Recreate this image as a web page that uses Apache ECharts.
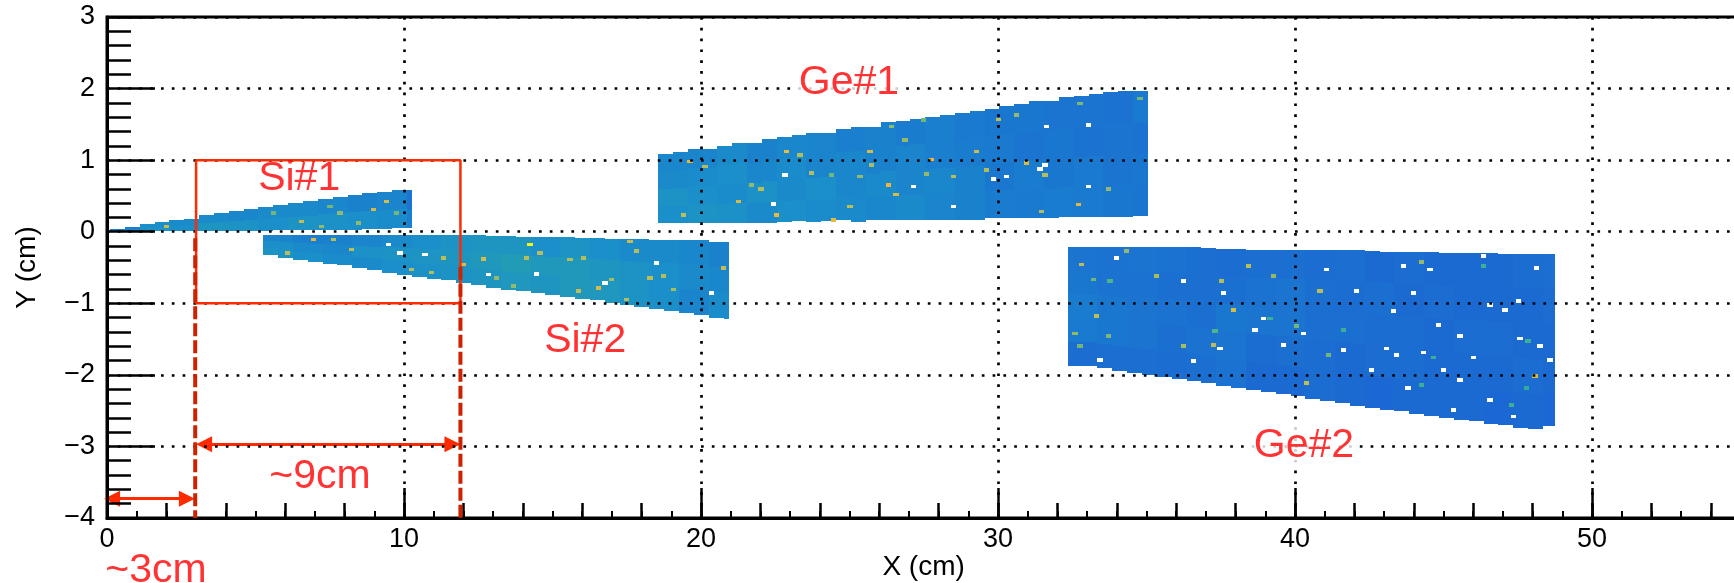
<!DOCTYPE html>
<html>
<head>
<meta charset="utf-8">
<style>
  html, body { margin: 0; padding: 0; background: #fff; }
  #chart { width: 1734px; height: 583px; }
</style>
<script src="https://cdn.jsdelivr.net/npm/echarts@6/dist/echarts.min.js"></script>
</head>
<body>
<div id="chart"></div>
<script>
// all values below are estimated from the picture, in cm.
// the fine bin noise could not be read: colour values are coarse averages (1 cm wide bands),
// the hot / empty lists are single bins picked out by eye, so their places are approximate

// Ge#1
var ge1Start = 18.55, ge1End = 35.05
var ge1High = [1.08,1.12,1.15,1.15,1.2,1.24,1.24,1.29,1.32,1.35,1.38,1.38,1.44,1.46,1.46,1.53,1.55,1.58,1.6,1.63,1.66,1.68,1.72,1.75,1.78,1.82,1.82,1.88,1.89,1.92,1.95,1.96,1.96]
var ge1Low = [.115,.115,.115,.115,.115,.115,.115,.115,.13,.15,.13,.15,.16,.13,.16,.16,.16,.16,.16,.16,.16,.17,.19,.19,.19,.19,.19,.2,.2,.2,.21,.21,.22]
var ge1Values = [
  [20,22,21,18,20,19,18,17,18,16,15,13,12,13,12,11,10],
  [22,20,19,21,18,20,17,18,16,17,15,11,13,11,12,10,11],
  [18,19,20,17,19,16,17,15,16,14,13,12,10,11,9,10,9],
  [17,16,18,15,17,16,14,15,13,14,12,11,11,10,10,9,12]
]
var ge1Hot = [[19.63,.98,75],[22.88,1.12,78],[22.02,.6,62],[21.26,.42,72],[22.55,.23,78],[20.13,.91,60],[19.41,.23,62],[21.71,.65,55],[25.69,1.12,72],[26.31,.65,80],[26.57,.52,72],[27.77,1.01,80],[29.28,1.12,68],[28.5,.77,60],[30.01,1.57,62],[30.63,1.63,55],[30.97,.96,72],[32.7,.38,75],[33.71,.6,55],[32.76,1.79,52],[27.49,1.56,50],[26.87,1.28,55],[24.46,.16,75],[23.73,.82,60],[25.02,.35,62],[25.35,.77,55],[31.47,.28,60],[34.78,1.86,50],[29.62,.86,60],[27.6,.81,55],[24.4,.79,50],[23.33,1.07,60],[26.42,1.47,55],[25.75,.93,58],[31.58,.79,60]]
var ge1Empty = [[33.04,1.49],[31.64,1.47],[31.58,.93],[29.84,.74],[27.15,.63],[22.44,.39],[28.5,.35],[22.83,.79],[33.04,.63],[31.41,.88],[30.29,.77]]

// Ge#2
var ge2Start = 32.35, ge2End = 48.75
var ge2High = [-.21,-.21,-.21,-.21,-.21,-.21,-.21,-.21,-.21,-.23,-.24,-.24,-.25,-.25,-.25,-.25,-.25,-.26,-.26,-.26,-.27,-.28,-.29,-.29,-.29,-.3,-.3,-.3,-.3,-.31,-.31,-.31,-.31]
var ge2Low = [-1.87,-1.88,-1.9,-1.95,-1.97,-2.0,-2.03,-2.06,-2.09,-2.12,-2.15,-2.18,-2.21,-2.24,-2.27,-2.3,-2.34,-2.37,-2.4,-2.43,-2.46,-2.49,-2.51,-2.54,-2.57,-2.6,-2.63,-2.65,-2.69,-2.7,-2.74,-2.75,-2.72]
var ge2Values = [
  [7,8,8,7,8,9,6,6,7,6,5,6,6,6,5,6,5],
  [12,11,10,8,9,10,7,8,7,6,7,7,6,6,6,7,6],
  [13,11,10,9,8,11,10,10,8,8,7,7,6,7,7,6,6],
  [11,9,9,8,8,8,9,10,8,7,8,6,7,6,6,6,7],
  [10,9,10,9,8,7,8,8,7,8,6,7,6,6,6,7,8]
]
var ge2Hot = [[34.33,-.27,55],[32.82,-.46,62],[35.34,-.62,58],[38.43,-.48,62],[37.53,-.69,60],[39.27,-.62,55],[40.84,-.83,62],[44.26,-.42,55],[37.92,-1.09,72],[33.32,-1.18,62],[32.59,-1.42,55],[33.71,-1.46,52],[37.25,-1.58,62],[36.24,-1.6,58],[40.06,-1.32,50],[37.31,-1.39,45],[39.16,-1.21,42],[40.39,-2.11,62],[48.08,-2.02,70],[46.34,-.48,42],[41.63,-1.37,42],[44.66,-1.76,42],[41.12,-1.72,50],[33.21,-.67,50],[32.76,-1.6,50],[47.29,-2.42,42],[44.26,-2.14,42],[47.8,-2.18,40],[47.85,-1.53,42],[33.77,-.69,45]]
var ge2Empty = [[36.24,-.69],[41.07,-.53],[38.65,-1.37],[44.83,-1.3],[36.58,-1.81],[43.31,-1.11],[47.52,-.97],[46.56,-2.35],[45.33,-2.49],[48.59,-1.79],[46,-1.76],[43.42,-1.72],[48.14,-.51],[42.08,-.83],[43.98,-.86],[37.59,-.86],[40.28,-1.42],[47.57,-1.49],[46.56,-1.02],[45.55,-1.46],[44.32,-1.69],[38.93,-1.21],[44.54,-.53],[41.63,-1.65],[43.65,-.48],[46.34,-.34],[33.43,-1.79],[33.99,-.37],[47.07,-1.09],[42.58,-1.93],[45,-1.93],[48.25,-1.6],[43.81,-2.18],[45.55,-2.07],[47.35,-2.58],[37.47,-1.63],[43.09,-1.63],[39.61,-1.58]]

// Si#1
var si1Start = 0.1, si1End = 10.26
var si1High = [.04,.07,.11,.13,.16,.18,.23,.26,.29,.32,.35,.38,.4,.43,.46,.49,.51,.54,.56,.58,.58]
var si1Low = [.01,.01,.01,.01,.01,.01,.01,.01,.01,.01,.015,.02,.02,.02,.03,.03,.03,.04,.04,.05,.05]
var si1Values = [
  [16,22,20,24,22,20,22,21,20,19,14],
  [14,20,18,18,17,18,18,17,15,16,10]
]
var si1Hot = [[2,.07,65],[8.97,.31,70],[6.55,.14,65],[9.42,.42,68],[7.23,.07,55],[8.46,.12,55],[5.6,.26,50],[7.85,.26,55],[7.51,.35,50],[9.75,.26,50]]

// Si#2
var si2Start = 5.26, si2End = 20.93
var si2High = [-.04,-.04,-.04,-.04,-.04,-.04,-.04,-.04,-.04,-.04,-.04,-.04,-.04,-.05,-.05,-.06,-.06,-.07,-.07,-.08,-.08,-.09,-.09,-.1,-.1,-.1,-.11,-.11,-.11,-.12,-.14,-.14]
var si2Low = [-.33,-.37,-.4,-.42,-.45,-.47,-.51,-.54,-.57,-.6,-.63,-.66,-.68,-.71,-.74,-.78,-.81,-.83,-.86,-.88,-.91,-.94,-.96,-.99,-1.02,-1.05,-1.08,-1.11,-1.14,-1.17,-1.2,-1.22]
var si2Values = [
  [22,20,19,18,20,21,22,24,25,24,26,25,22,20,16,19],
  [20,18,17,21,22,23,24,26,28,26,26,24,22,20,18,17],
  [16,14,15,16,18,20,22,24,24,20,22,20,18,18,17,15]
]
var si2Hot = [[14.24,-.177,100],[6.95,-.11,75],[6.07,-.3,62],[8.24,-.25,62],[10.26,-.53,60],[10.93,-.57,60],[12.67,-.38,72],[12,-.46,75],[14.58,-.3,62],[16.54,-.79,72],[17.61,-.135,65],[20.75,-.51,65],[17.5,-.95,60],[15.59,-.39,60],[18.73,-.62,60],[18.28,-.65,62],[16.04,-.37,60],[14.13,-.37,60],[16.99,-.67,58],[13.68,-.76,55],[15.87,-.83,65],[13.12,-.65,55],[11.32,-.37,62],[7.62,-.11,60],[19.07,-.81,58],[17.83,-.27,60]]
var si2Empty = [[10.71,-.32],[12.84,-.6],[9.87,-.3],[9.47,-.18],[16.77,-.72],[18.51,-.44],[20.36,-.86],[14.47,-.59]]

// annotations
var boxX = [3,11.9,11.9,3,3]
var boxY = [1,1,-1,-1,1]
var dashLeftX = [2.97,2.97], dashLeftY = [-.09,-4]
var dashRightX = [11.9,11.9], dashRightY = [-.49,-4]
// arrow ends sit at the middle of the head, so they stop short of the tips
var arrow9 = [[3.27,-2.97],[11.63,-2.97]]
var arrow3 = [[.17,-3.73],[2.69,-3.73]]
var labelNames = ['Ge#1','Ge#2','Si#1','Si#2','~9cm','~3cm']
var labelX = [24.98,40.3,6.47,16.1,7.17,1.65]
var labelY = [2.08,-2.99,.74,-1.52,-3.42,-4.73]

var xMax = 56
var colWidth = 0.5, binW = 0.18, binH = 0.05

function detector(start, end, low, high, values) {
  var out = []
  for (var i = 0; i < low.length; i++) {
    var x0 = start + i * colWidth
    var x1 = Math.min(x0 + colWidth, end)
    var n = values.length
    for (var b = 0; b < n; b++) {
      var h = (high[i] - low[i]) / n
      out.push([x0, x1, low[i] + b * h, low[i] + (b + 1) * h, values[b][Math.floor(i / 2)]])
    }
  }
  return out
}

function bins(list) {
  return list.map(function (p) {
    return [p[0] - binW / 2, p[0] + binW / 2, p[1] - binH / 2, p[1] + binH / 2, p[2] === undefined ? 0 : p[2]]
  })
}

var cells = [].concat(
  detector(ge1Start, ge1End, ge1Low, ge1High, ge1Values),
  detector(ge2Start, ge2End, ge2Low, ge2High, ge2Values),
  detector(si1Start, si1End, si1Low, si1High, si1Values),
  detector(si2Start, si2End, si2Low, si2High, si2Values),
  bins(ge1Hot), bins(ge2Hot), bins(si1Hot), bins(si2Hot)
)
var empties = bins([].concat(ge1Empty, ge2Empty, si2Empty))

function renderCell(color) {
  return function (params, api) {
    var a = api.coord([api.value(0), api.value(3)])
    var b = api.coord([api.value(1), api.value(2)])
    return {
      type: 'rect',
      shape: {
        x: Math.round(a[0]),
        y: Math.round(a[1]),
        width: Math.round(b[0]) - Math.round(a[0]),
        height: Math.max(Math.round(b[1]) - Math.round(a[1]), 1)
      },
      style: { fill: color || api.visual('color') }
    }
  }
}

function zip(xs, ys) {
  return xs.map(function (x, i) { return [x, ys[i]] })
}

var font = '"Liberation Sans", Arial, sans-serif'
var red = '#ff2a00'
var minus = function (v) { return String(v).replace('-', '\u2212') }

var chart = echarts.init(document.getElementById('chart'))
chart.setOption({
  animation: false,
  backgroundColor: '#fff',
  grid: {
    left: 107, top: 17, width: 29.7 * xMax, height: 501, outerBoundsMode: 'none',
    show: true, borderColor: '#000', borderWidth: 3, backgroundColor: '#fff'
  },
  visualMap: {
    show: false, seriesIndex: 0, dimension: 4, min: 0, max: 100,
    inRange: { color: ['#1b5ad6', '#1a8fca', '#2fae9a', '#b5bd5a', '#f0b83a', '#f9f50e'] }
  },
  xAxis: [{
    type: 'value', min: 0, max: xMax, interval: 10, z: 10,
    name: 'X (cm)', nameLocation: 'middle', nameGap: 35, nameMoveOverlap: false,
    nameTextStyle: { fontFamily: font, fontSize: 28, color: '#000', padding: [0, 30, 0, 0] },
    axisLine: { onZero: false, lineStyle: { color: '#000', width: 3 } },
    axisTick: { inside: true, length: 30, lineStyle: { color: '#000', width: 2.5 } },
    minorTick: { show: true, splitNumber: 10, length: 7, lineStyle: { color: '#000', width: 2 } },
    axisLabel: { fontFamily: font, fontSize: 27, color: '#000', margin: 8 },
    splitLine: { show: true, lineStyle: { color: '#000', width: 2.7, type: [2.7, 8.1] } }
  }, {
    // middle sized ticks, every 2 cm
    type: 'value', min: 0, max: xMax, interval: 2, position: 'bottom', z: 10,
    axisLine: { show: false, onZero: false },
    axisTick: { inside: true, length: 15, lineStyle: { color: '#000', width: 2.5 } },
    axisLabel: { show: false },
    splitLine: { show: false }
  }],
  yAxis: {
    type: 'value', min: -4, max: 3, interval: 1, z: 10,
    name: 'Y (cm)', nameLocation: 'middle', nameGap: 66, nameMoveOverlap: false,
    nameTextStyle: { fontFamily: font, fontSize: 28, color: '#000' },
    axisLine: { onZero: false, lineStyle: { color: '#000', width: 3 } },
    axisTick: { inside: true, length: 48, lineStyle: { color: '#000', width: 2.5 } },
    minorTick: { show: true, splitNumber: 5, length: 24, lineStyle: { color: '#000', width: 2.5 } },
    axisLabel: { fontFamily: font, fontSize: 27, color: '#000', margin: 12, formatter: minus },
    splitLine: { show: true, lineStyle: { color: '#000', width: 2.7, type: [2.7, 8.1] } }
  },
  series: [{
    type: 'custom',
    name: 'hits',
    renderItem: renderCell(),
    data: cells,
    encode: { x: [0, 1], y: [2, 3] },
    z: 2
  }, {
    type: 'custom',
    name: 'empty bins',
    renderItem: renderCell('#fff'),
    data: empties,
    encode: { x: [0, 1], y: [2, 3] },
    z: 3
  }, {
    type: 'line',
    data: zip(boxX, boxY),
    showSymbol: false,
    lineStyle: { color: red, width: 2.5 },
    z: 20,
    markLine: {
      silent: true,
      clip: false,
      symbol: ['triangle', 'triangle'],
      symbolSize: [16, 16],
      label: { show: false },
      lineStyle: { color: red, width: 3, type: 'solid' },
      data: [
        [{ coord: arrow9[0] }, { coord: arrow9[1] }],
        [{ coord: arrow3[0] }, { coord: arrow3[1] }]
      ]
    }
  }, {
    type: 'line',
    data: zip(dashLeftX, dashLeftY),
    showSymbol: false,
    lineStyle: { color: '#cc2200', width: 4, type: [13, 4] },
    z: 21
  }, {
    type: 'line',
    data: zip(dashRightX, dashRightY),
    showSymbol: false,
    lineStyle: { color: '#cc2200', width: 4, type: [13, 4] },
    z: 21
  }, {
    type: 'scatter',
    clip: false,
    symbolSize: 0,
    z: 22,
    data: labelNames.map(function (n, i) {
      var item = { name: n, value: [labelX[i], labelY[i]] }
      // the Ge labels blank the dotted grid behind them
      if (n.indexOf('Ge') === 0) item.label = { backgroundColor: '#fff', padding: [-2, 4] }
      return item
    }),
    label: {
      show: true, position: 'inside', formatter: '{b}',
      fontFamily: font, fontSize: 41, color: '#ff0000'
    }
  }]
})
</script>
</body>
</html>
